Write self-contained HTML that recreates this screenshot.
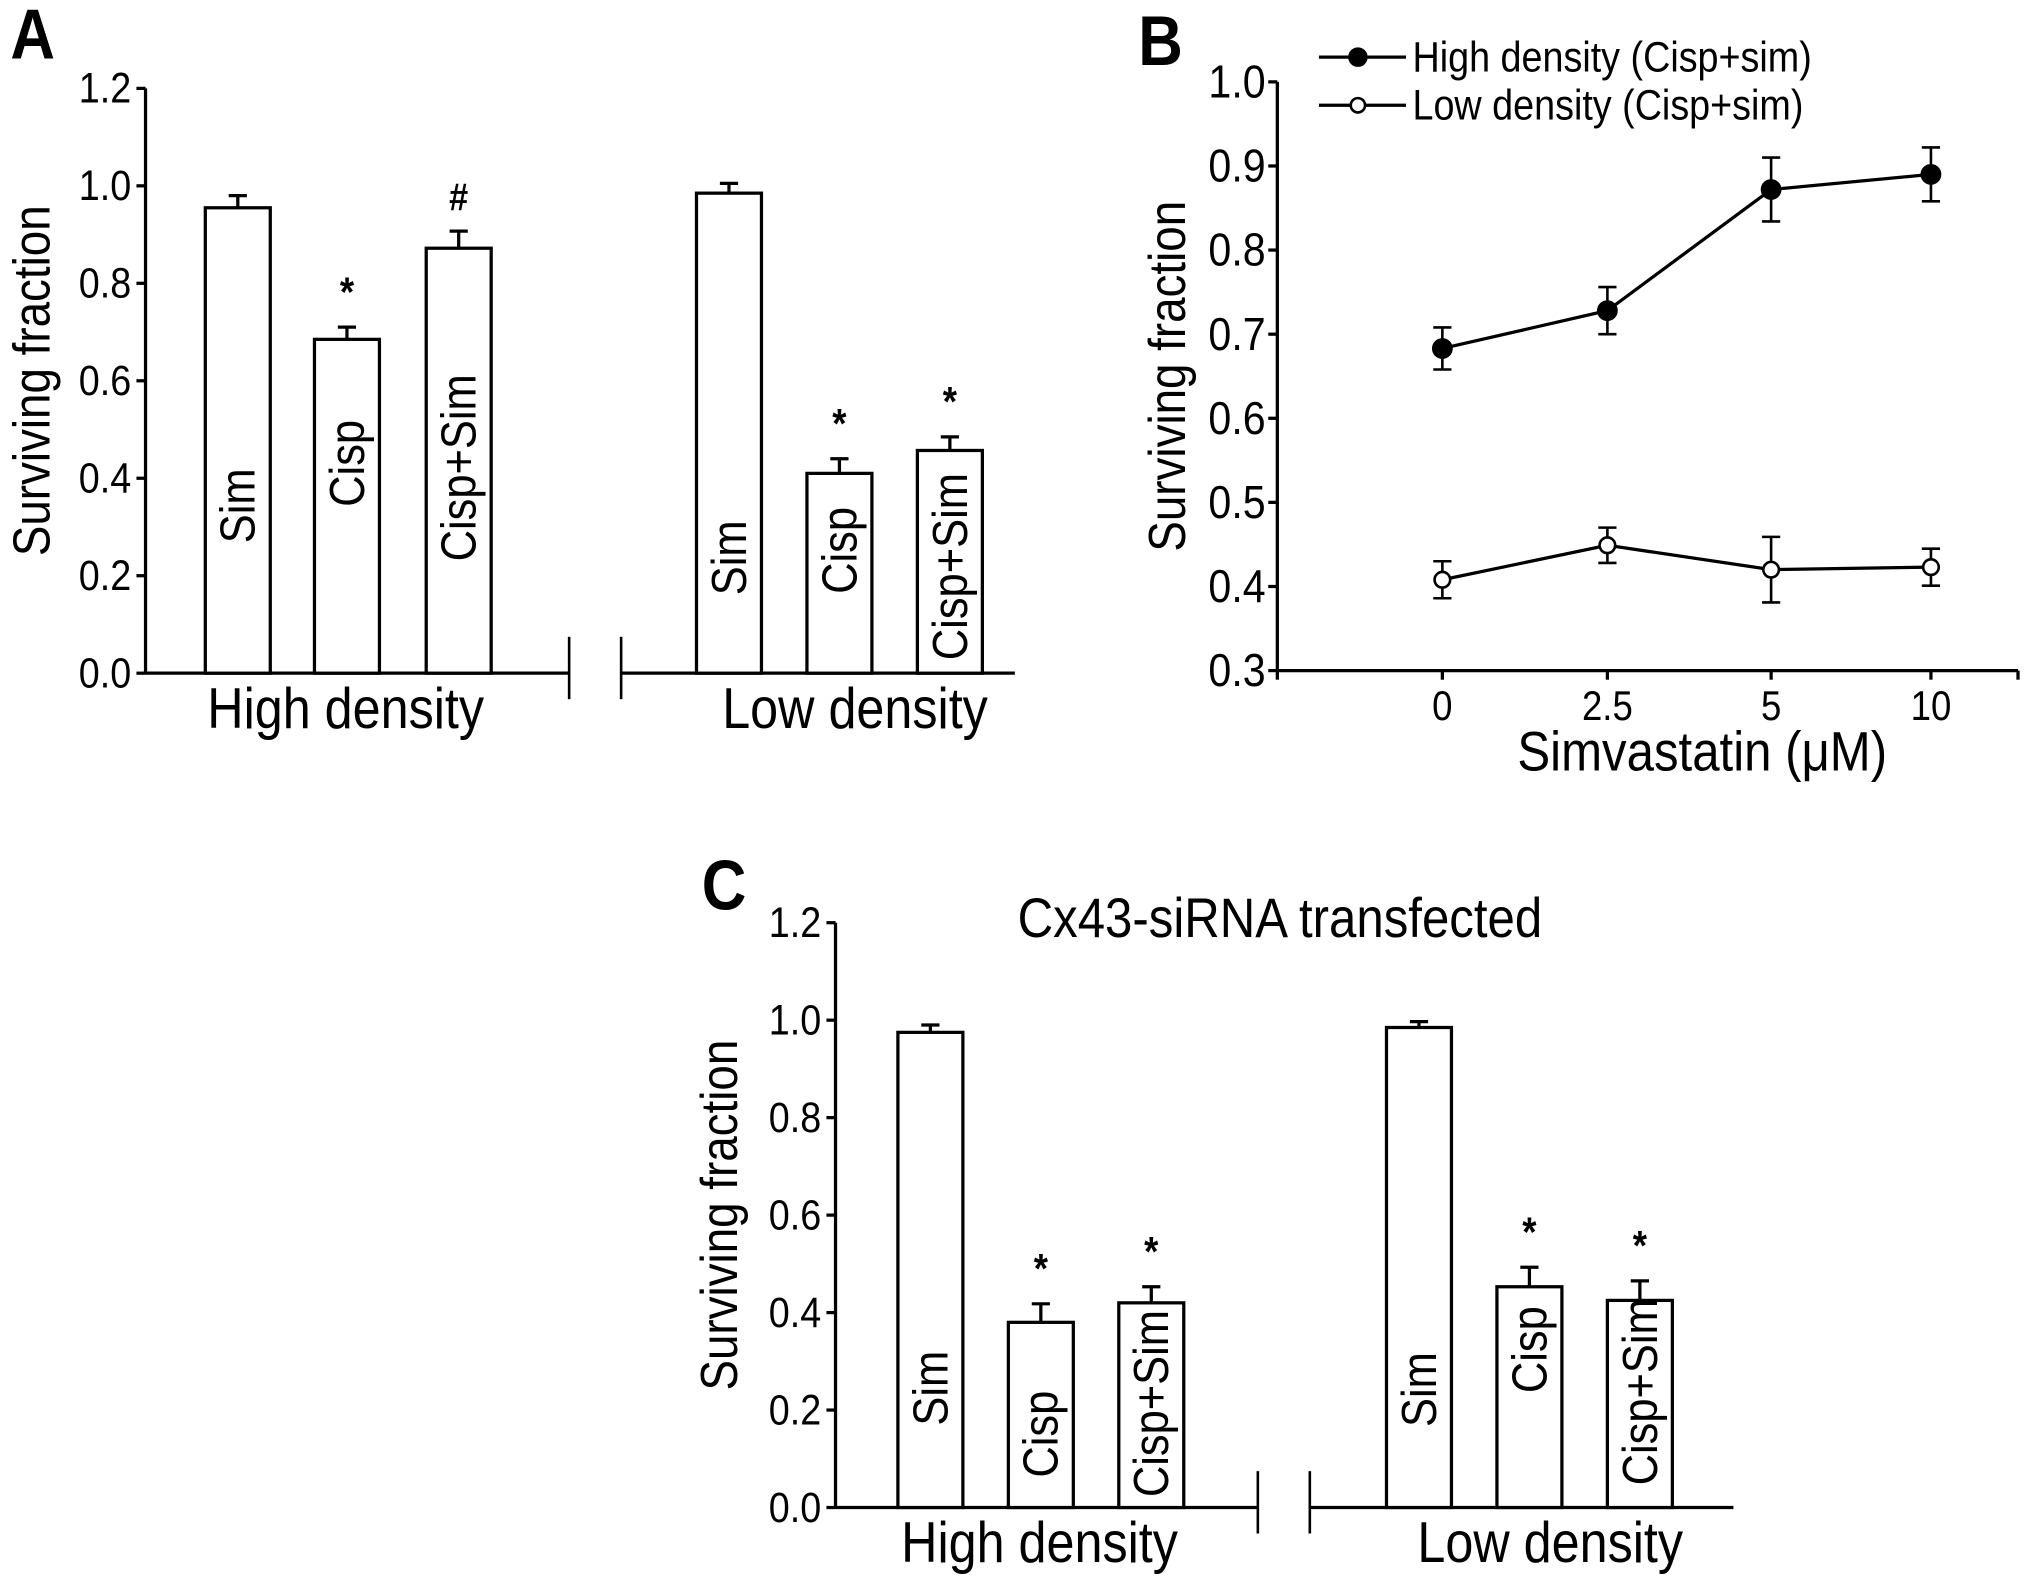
<!DOCTYPE html>
<html><head><meta charset="utf-8"><style>
html,body{margin:0;padding:0;background:#fff;}
svg{display:block;font-family:"Liberation Sans",Arial,sans-serif;}
</style></head><body>
<svg id="fig" width="2031" height="1579" viewBox="0 0 1563 1215" preserveAspectRatio="none" xmlns="http://www.w3.org/2000/svg"></svg>
<script>
// ---- Panel A data ----
const aGroups = ["High density", "Low density"];
const aCats = ["Sim", "Cisp", "Cisp+Sim"];
const aHigh = [0.955, 0.685, 0.872];
const aHighErr = [0.025, 0.025, 0.035];
const aLow = [0.985, 0.41, 0.457];
const aLowErr = [0.02, 0.03, 0.028];
const aHighMarks = ["", "*", "#"];
const aLowMarks = ["", "*", "*"];
const barTicks = [0.0, 0.2, 0.4, 0.6, 0.8, 1.0, 1.2];
// ---- Panel B data ----
const bDoses = ["0", "2.5", "5", "10"];
const bHigh = [0.683, 0.728, 0.872, 0.890];
const bHighErr = [0.025, 0.028, 0.038, 0.032];
const bLow = [0.408, 0.449, 0.420, 0.423];
const bLowErr = [0.022, 0.021, 0.039, 0.022];
const bTicks = [0.3, 0.4, 0.5, 0.6, 0.7, 0.8, 0.9, 1.0];
const bSeries = ["High density (Cisp+sim)", "Low density (Cisp+sim)"];
// ---- Panel C data ----
const cHigh = [0.975, 0.38, 0.42];
const cHighErr = [0.015, 0.038, 0.033];
const cLow = [0.985, 0.453, 0.425];
const cLowErr = [0.012, 0.04, 0.04];
const cHighMarks = ["", "*", "*"];
const cLowMarks = ["", "*", "*"];

const NS = "http://www.w3.org/2000/svg";
const svg = document.getElementById("fig");
function el(tag, attrs, parent, text) {
  const e = document.createElementNS(NS, tag);
  for (const k in attrs) e.setAttribute(k, attrs[k]);
  if (text !== undefined) e.textContent = text;
  (parent || svg).appendChild(e);
  return e;
}
function line(x1, y1, x2, y2, w, p) { return el("line", {x1, y1, x2, y2, stroke: "#000", "stroke-width": w || 2.5}, p); }
function txt(x, y, s, size, opts, p) {
  const o = Object.assign({x: 0, y: 0, "font-size": size, fill: "#000"}, opts || {});
  const extra = o.transform || "";
  o.transform = `translate(${x},${y}) ${extra} scale(0.88,1)`;
  return el("text", o, p, s);
}

function barPanel(cfg) {
  const g = el("g", {});
  
  
  const y = v => cfg.y0 - (v / 1.2) * (cfg.y0 - cfg.y12);
  const L = txt(cfg.letterX, cfg.letterY, cfg.letter, 54, {"font-weight": "bold"}, g);
  
  
  const ya = line(cfg.ax, cfg.y12, cfg.ax, cfg.y0, 2.5, g);
  
  
  barTicks.forEach(t => {
    line(cfg.ax - 7, y(t), cfg.ax, y(t), 2.5, g);
    const tl = txt(cfg.ax - 11, y(t) + 11, t.toFixed(1), 33, {"text-anchor": "end"}, g);
    
    
  });
  const yt = txt(cfg.titleX, (cfg.y0 + cfg.y12) / 2, "Surviving fraction", 40, {"text-anchor": "middle", transform: "rotate(-90)"}, g);
  
  
  line(cfg.ax, cfg.y0, cfg.brk1, cfg.y0, 2.5, g);
  line(cfg.brk1, cfg.y0 - 28, cfg.brk1, cfg.y0 + 20, 2, g);
  line(cfg.brk2, cfg.y0, cfg.axEnd, cfg.y0, 2.5, g);
  line(cfg.brk2, cfg.y0 - 28, cfg.brk2, cfg.y0 + 20, 2, g);
  const groups = [[cfg.high, cfg.highErr, cfg.highMarks, cfg.highX, cfg.highLab], [cfg.low, cfg.lowErr, cfg.lowMarks, cfg.lowX, cfg.lowLab]];
  groups.forEach((gr, gi) => {
    const [vals, errs, marks, xs, labs] = gr;
    vals.forEach((v, i) => {
      const x = xs[i], w = cfg.bw;
      const top = y(v), eTop = y(v + errs[i]);
      line(x + w / 2, eTop, x + w / 2, top, 2.5, g);
      line(x + w / 2 - 7, eTop, x + w / 2 + 7, eTop, 2.5, g);
      const r = el("rect", {x, y: top, width: w, height: cfg.y0 - top, fill: "#fff", stroke: "#000", "stroke-width": 2.5}, g);
      
      
      const bl = txt(x + w / 2 + 13, labs[i], aCats[i], 38, {transform: "rotate(-90)"}, g);
      
      
      if (marks[i]) {
        const m = txt(x + w / 2, eTop - 16, marks[i], marks[i] === "#" ? 30 : 32, {"text-anchor": "middle", "font-weight": "bold"}, g);
        
        
      }
    });
    const cx = gi === 0 ? cfg.g1c : cfg.g2c;
    const gl = txt(cx, cfg.y0 + 42, aGroups[gi], 44, {"text-anchor": "middle"}, g);
    
    
  });
  return g;
}

barPanel({name: "panel-a", letter: "A", letterX: 8, letterY: 45, ax: 112, y0: 518, y12: 68, titleX: 38,
  brk1: 438, brk2: 478, axEnd: 781, bw: 50,
  high: aHigh, highErr: aHighErr, highMarks: aHighMarks, highX: [158, 242, 328], highLab: [418, 390, 432],
  low: aLow, lowErr: aLowErr, lowMarks: aLowMarks, lowX: [536, 621, 706], lowLab: [458, 457, 508],
  g1c: 266, g2c: 658});

const pc = barPanel({name: "panel-c", letter: "C", letterX: 540, letterY: 700, ax: 643, y0: 1160, y12: 710, titleX: 567,
  brk1: 968, brk2: 1008, axEnd: 1334, bw: 50,
  high: cHigh, highErr: cHighErr, highMarks: cHighMarks, highX: [691, 776, 861], highLab: [1097, 1137, 1152],
  low: cLow, lowErr: cLowErr, lowMarks: cLowMarks, lowX: [1067, 1152, 1237], lowLab: [1098, 1072, 1143],
  g1c: 800, g2c: 1193});
const ct = txt(985, 721, "Cx43-siRNA transfected", 43, {"text-anchor": "middle"}, pc);



// ---- Panel B ----
(function () {
  const g = el("g", {});
  
  
  const ax = 983, y0 = 516, y1 = 63, axEnd = 1553;
  const xPos = [1110, 1237, 1363, 1486];
  const y = v => y0 - (v - 0.3) / 0.7 * (y0 - y1);
  const x = i => xPos[i];
  const L = txt(876, 50, "B", 54, {"font-weight": "bold"}, g);
  
  
  line(ax, y1, ax, y0, 2.5, g);
  line(ax, y0, axEnd, y0, 2.5, g);
  bTicks.forEach(t => {
    line(ax - 7, y(t), ax, y(t), 2.5, g);
    const tl = txt(ax - 9, y(t) + 12, t.toFixed(1), 36, {"text-anchor": "end"}, g);
    
    
  });
  line(ax, y0, ax, y0 + 7, 2.5, g);
  line(axEnd, y0, axEnd, y0 + 7, 2.5, g);
  bDoses.forEach((d, i) => {
    line(x(i), y0, x(i), y0 + 7, 2.5, g);
    const tl = txt(x(i), y0 + 38, d, 32, {"text-anchor": "middle"}, g);
    
    
  });
  const xt = txt(1310, 593, "Simvastatin (μM)", 43, {"text-anchor": "middle"}, g);
  
  
  const yt = txt(912, (y0 + y1) / 2, "Surviving fraction", 40, {"text-anchor": "middle", transform: "rotate(-90)"}, g);
  
  
  [[bHigh, bHighErr, "#000", "high"], [bLow, bLowErr, "#fff", "low"]].forEach(([vals, errs, fill, nm]) => {
    const pts = vals.map((v, i) => `${x(i)},${y(v)}`).join(" ");
    const pl = el("polyline", {points: pts, fill: "none", stroke: "#000", "stroke-width": 2.5}, g);
    
    
    vals.forEach((v, i) => {
      line(x(i), y(v + errs[i]), x(i), y(v - errs[i]), 2, g);
      line(x(i) - 7, y(v + errs[i]), x(i) + 7, y(v + errs[i]), 2, g);
      line(x(i) - 7, y(v - errs[i]), x(i) + 7, y(v - errs[i]), 2, g);
      const c = el("circle", {cx: x(i), cy: y(v), r: fill === "#000" ? 7 : 6, fill, stroke: "#000", "stroke-width": 2}, g);
      
      
    });
  });
  [[44, "#000"], [81, "#fff"]].forEach(([ly, fill], k) => {
    const lg = el("g", {}, g);
    
    
    line(1015, ly, 1082, ly, 2.5, lg);
    el("circle", {cx: 1045, cy: ly, r: fill === "#000" ? 6.5 : 5.5, fill, stroke: "#000", "stroke-width": 2}, lg);
    txt(1087, ly + 11, bSeries[k], 33, {}, lg);
  });
})();
</script>
</body></html>
